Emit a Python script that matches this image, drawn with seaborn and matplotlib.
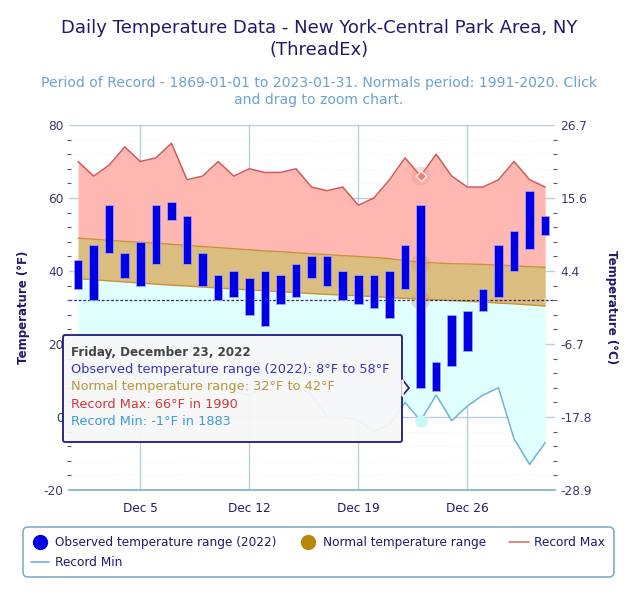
import numpy as np
import pandas as pd
import seaborn as sns
import matplotlib.pyplot as plt
from matplotlib.lines import Line2D
from matplotlib.patches import FancyBboxPatch, Polygon

days = list(range(1, 32))
obs_low = [35, 32, 45, 38, 36, 42, 54, 42, 36, 32, 33, 28, 25, 31, 33, 38, 36, 32, 31, 30, 27, 35, 8, 7, 14, 18, 29, 33, 40, 46, 50]
obs_high = [43, 47, 58, 45, 48, 58, 59, 55, 45, 39, 40, 38, 40, 39, 42, 44, 44, 40, 39, 39, 40, 47, 58, 15, 28, 29, 35, 47, 51, 62, 55]
normal_low = [37.9, 37.6, 37.3, 37.0, 36.7, 36.4, 36.1, 35.9, 35.6, 35.3, 35.1, 34.8, 34.6, 34.3, 34.1, 33.8, 33.6, 33.4, 33.2, 33.0, 32.7, 32.5, 32.3, 32.1, 31.9, 31.7, 31.5, 31.2, 31.0, 30.7, 30.4]
normal_high = [49.0, 48.7, 48.4, 48.1, 47.9, 47.6, 47.3, 47.0, 46.7, 46.4, 46.1, 45.8, 45.5, 45.3, 45.0, 44.7, 44.5, 44.2, 44.0, 43.7, 43.4, 42.8, 42.4, 42.2, 42.0, 41.9, 41.8, 41.6, 41.4, 41.2, 41.0]
record_max = [70, 66, 69, 74, 70, 71, 75, 65, 66, 70, 66, 68, 67, 67, 68, 63, 62, 63, 58, 60, 65, 71, 66, 72, 66, 63, 63, 65, 70, 65, 63]
record_min = [12, 10, 11, 12, 11, 9, 9, 10, 8, 8, 7, 6, 8, 11, 9, 6, 0, 0, -1, -4, -2, 4, -1, 6, -1, 3, 6, 8, -6, -13, -7]
left_ticks = [-20, 0, 20, 40, 60, 80]
minor_ticks = [-16, -12, -8, -4, 4, 8, 12, 16, 24, 28, 32, 36, 44, 48, 52, 56, 64, 68, 72, 76]
right_labels = ['-28.9', '-17.8', '-6.7', '4.4', '15.6', '26.7']
date_ticks = [5, 12, 19, 26]
date_labels = ['Dec 5', 'Dec 12', 'Dec 19', 'Dec 26']

NAVY = '#1f1a6b'
TICK = '#3a3a6a'
GRID = '#a9c3d2'
W, H = 640, 594

df = pd.DataFrame({'day': days, 'record_max': record_max, 'record_min': record_min})

sns.set_theme(style='white')
plt.rcParams['font.family'] = ['DejaVu Sans']
plt.rcParams['axes.unicode_minus'] = False
fig = plt.figure(figsize=(6.4, 5.94), dpi=100)
ax = fig.add_axes([69 / W, 1 - 490 / H, (555 - 69) / W, (490 - 125) / H])
ax.set_xlim(0.42, 31.63)
ax.set_ylim(-20, 80)

# areas
ax.fill_between(days, normal_high, record_max, color='#ffb8b1', lw=0, zorder=1)
ax.fill_between(days, normal_low, normal_high, color='#dcbd80', lw=0, zorder=1)
ax.fill_between(days, record_min, normal_low, color='#e0ffff', lw=0, zorder=1)

# grid
ax.set_yticks(left_ticks)
ax.set_yticks(minor_ticks, minor=True)
ax.set_xticks(date_ticks)
ax.set_xticklabels(date_labels)
ax.grid(True, which='major', color=GRID, lw=1, zorder=2, alpha=0.8)
ax.grid(True, which='minor', axis='y', color='#dde2e8', lw=0.5, ls=(0, (1, 3)), zorder=1.5)
for s in ['top', 'left', 'right']:
    ax.spines[s].set_visible(False)
ax.spines['bottom'].set_color('#7fb0c4')
ax.spines['bottom'].set_linewidth(1.2)
ax.tick_params(axis='x', which='major', length=10, width=1, color=GRID, labelcolor=NAVY, labelsize=8.7, pad=-1)
ax.tick_params(axis='y', which='major', length=0, labelcolor=TICK, labelsize=8.7, pad=4)
ax.tick_params(axis='y', which='minor', length=0)

# lines
sns.lineplot(data=df, x='day', y='record_max', color='#cf5a5a', lw=1.1, ax=ax, zorder=3)
sns.lineplot(data=df, x='day', y='record_min', color='#6fb3d6', lw=1.1, ax=ax, zorder=3)
ax.plot(days, normal_high, color='#c8923a', lw=1.0, zorder=3)
ax.plot(days, normal_low, color='#c8923a', lw=1.0, zorder=3)
ax.axhline(32, color='#2a2a70', lw=0.9, ls=(0, (2.2, 1.5)), zorder=3)
ax.set_xlabel('')
ax.set_ylabel('Temperature (°F)', color=NAVY, fontsize=8.5, fontweight='bold', labelpad=10)

# hover halos on the selected day
ax.scatter([23, 23, 23], [66, 42, 32], s=[190, 190, 190], color=['#f08a80', '#c8923a', '#c8923a'], alpha=0.28, lw=0, zorder=3.5)
ax.scatter([23], [66], s=28, marker='D', color='#f07f78', edgecolor='#fff0e8', lw=1.0, zorder=5)
ax.scatter([23], [-1], s=80, color='#c8f6f6', lw=0, zorder=5)

# observed range
ax.bar(days, np.array(obs_high) - np.array(obs_low), bottom=obs_low, width=0.55, color='#0000e6', edgecolor='#b0a8f0', lw=0.5, zorder=4)

# right axis in Celsius
ax2 = ax.twinx()
ax2.set_ylim(-20, 80)
ax2.set_yticks(left_ticks)
ax2.set_yticklabels(right_labels)
ax2.grid(False)
for s in ax2.spines.values():
    s.set_visible(False)
ax2.tick_params(axis='y', length=0, labelcolor=TICK, labelsize=8.7, pad=4)
ax2.set_ylabel('Temperature (°C)', color=NAVY, fontsize=8.5, fontweight='bold', rotation=270, labelpad=19)
for edge in [0.0, 1.0]:
    ax2.plot([edge] * len(minor_ticks), minor_ticks, ls='', marker='_', ms=3, mew=0.8, color='#555577', clip_on=False, transform=ax2.get_yaxis_transform())

# overlay in pixel coords for the tooltip, titles and legend
ov = fig.add_axes([0, 0, 1, 1], zorder=10)
ov.set_xlim(0, W)
ov.set_ylim(H, 0)
ov.axis('off')
ov.patch.set_alpha(0)

tip = FancyBboxPatch((63, 335), 339, 107, boxstyle='round,pad=0,rounding_size=2', fc='#f7f7f8', ec='#1f1a7a', lw=1.4, alpha=0.93)
ov.add_patch(tip)
ov.add_patch(Polygon([(402, 379), (409, 388), (402, 396)], closed=True, fc='#f7f7f8', ec='#1f1a7a', lw=1.2))
ov.plot([402, 402], [380, 395], color='#f7f7f8', lw=1.8)
ov.text(71, 356, 'Friday, December 23, 2022', color='#444444', fontsize=8.6, fontweight='bold', va='baseline')
tip_lines = [('Observed temperature range (2022): 8°F to 58°F', '#3a35b0', 373),
             ('Normal temperature range: 32°F to 42°F', '#b8963c', 390),
             ('Record Max: 66°F in 1990', '#d0383c', 408),
             ('Record Min: -1°F in 1883', '#3a9ad6', 425)]
for txt, col, y in tip_lines:
    ov.text(71, y, txt, color=col, fontsize=9.3, va='baseline')

ov.text(319, 33, 'Daily Temperature Data - New York-Central Park Area, NY', color=NAVY, fontsize=13.0, ha='center', va='baseline')
ov.text(319, 55, '(ThreadEx)', color=NAVY, fontsize=13.0, ha='center', va='baseline')
ov.text(319, 87, 'Period of Record - 1869-01-01 to 2023-01-31. Normals period: 1991-2020. Click', color='#6ba3cc', fontsize=10.1, ha='center', va='baseline')
ov.text(319, 104, 'and drag to zoom chart.', color='#6ba3cc', fontsize=10.1, ha='center', va='baseline')

# legend box
ov.add_patch(FancyBboxPatch((23, 527), 591, 50, boxstyle='round,pad=0,rounding_size=5', fc='white', ec='#7fb0c4', lw=1.2))
ov.add_line(Line2D([40], [542], marker='o', ms=10, color='#0000e6', ls=''))
ov.text(55, 546, 'Observed temperature range (2022)', color=NAVY, fontsize=8.7, va='baseline')
ov.add_line(Line2D([308], [542], marker='o', ms=10, color='#b8860b', ls=''))
ov.text(323, 546, 'Normal temperature range', color=NAVY, fontsize=8.7, va='baseline')
ov.plot([509, 529], [542, 542], color='#e07070', lw=1.2)
ov.text(534, 546, 'Record Max', color=NAVY, fontsize=8.7, va='baseline')
ov.plot([31, 49], [562, 562], color='#6fb3d6', lw=1.2)
ov.text(55, 566, 'Record Min', color=NAVY, fontsize=8.7, va='baseline')

fig.savefig('out.png', dpi=100)
